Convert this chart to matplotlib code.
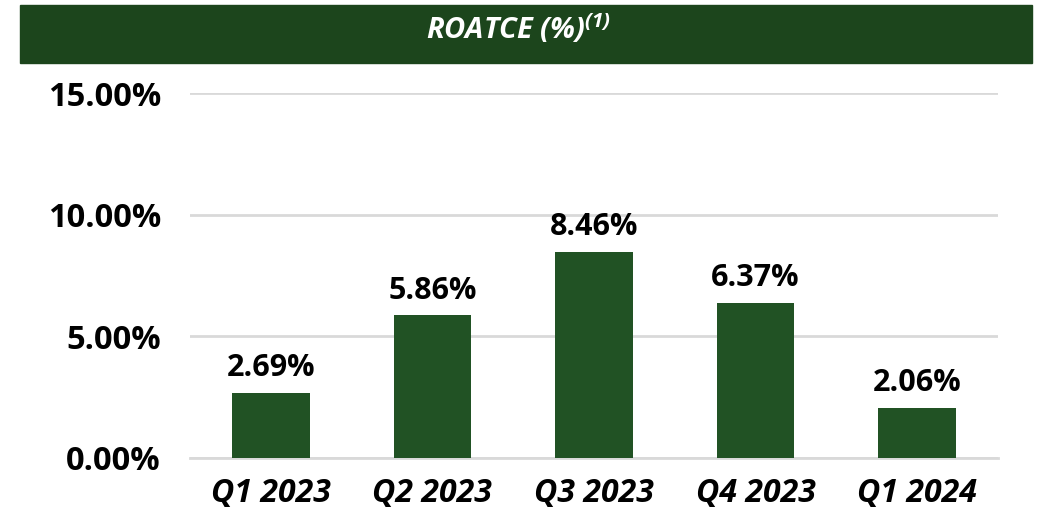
import matplotlib
matplotlib.use("Agg")
import matplotlib.pyplot as plt
from matplotlib.patches import Rectangle

# values
quarters = ["Q1 2023", "Q2 2023", "Q3 2023", "Q4 2023", "Q1 2024"]
roatce = [2.69, 5.86, 8.46, 6.37, 2.06]
yticks = [0, 5, 10, 15]

BAR_GREEN = "#215224"
BANNER_GREEN = "#1c451c"
GRID = "#d9d9d9"

plt.rcParams["font.family"] = ["Open Sans", "DejaVu Sans"]

fig = plt.figure(figsize=(10.38, 5.12), dpi=100)

# title banner
fig.patches.append(Rectangle((20 / 1038, 1 - 63 / 512), 1012 / 1038, 58 / 512,
                             transform=fig.transFigure, color=BANNER_GREEN, zorder=0))
fig.text(0.5, 1 - 29 / 512, r"ROATCE (%)$^{\mathregular{(1)}}$", color="white",
         fontsize=21, fontweight="bold", fontstyle="italic", ha="center", va="center")

ax = fig.add_axes([190 / 1038, 1 - 458 / 512, 808 / 1038, 365 / 512])
x = range(len(quarters))
ax.bar(x, roatce, width=0.48, color=BAR_GREEN, zorder=3)
for xi, v in zip(x, roatce):
    ax.text(xi, v + 0.4, f"{v:.2f}%", ha="center", va="bottom",
            fontsize=22, fontweight="bold", color="black")

ax.set_xlim(-0.5, len(quarters) - 0.5)
ax.set_ylim(0, 15)
ax.set_yticks(yticks)
ax.set_yticklabels([f"{t:.2f}%" for t in yticks], fontsize=23.5, fontweight="bold")
ax.set_xticks(list(x))
ax.set_xticklabels(quarters, fontsize=23, fontweight="bold", fontstyle="italic")
ax.tick_params(length=0, pad=21, axis="y")
ax.tick_params(length=0, pad=14, axis="x")
ax.grid(axis="y", color=GRID, linewidth=2, zorder=0)
for s in ["top", "right", "left"]:
    ax.spines[s].set_visible(False)
ax.spines["bottom"].set_color(GRID)
ax.spines["bottom"].set_linewidth(2)

fig.savefig("out.png", dpi=100)
